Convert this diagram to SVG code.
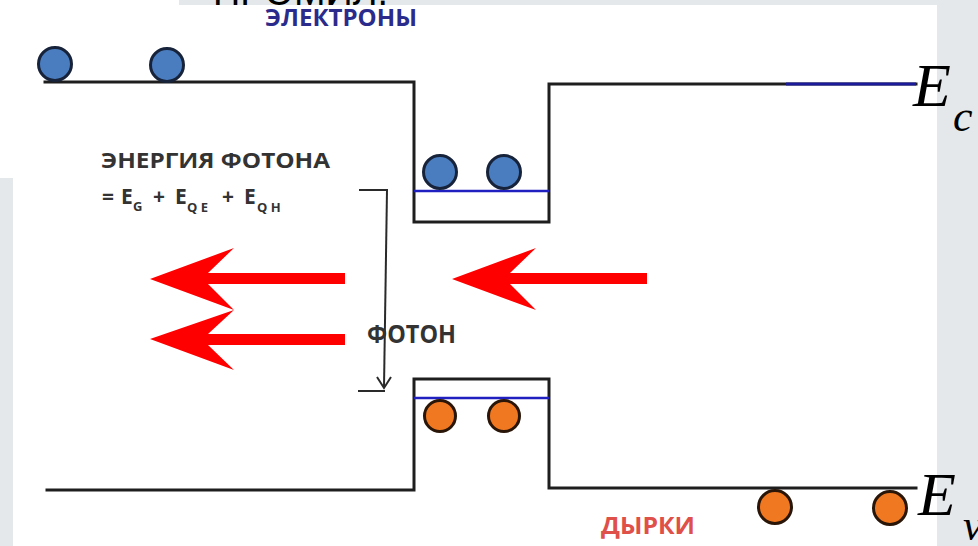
<svg xmlns="http://www.w3.org/2000/svg" width="978" height="546" viewBox="0 0 978 546">
  <style>
    .band { fill: none; stroke: #1e1e1e; stroke-width: 3; stroke-linecap: square; }
    .lvl { fill: none; stroke: #2020c0; stroke-width: 2.5; }
    .el { fill: #4a7dbf; stroke: #17233a; stroke-width: 3; }
    .ho { fill: #f07820; stroke: #2a1608; stroke-width: 3; }
    .red { fill: #ff0000; }
    .lbl { font-family: "Open Sans", "Liberation Sans", sans-serif; font-weight: bold; }
    .sym { font-family: "Liberation Serif", serif; font-style: italic; fill: #000; }
    .thin { fill: none; stroke: #2a2a2a; stroke-width: 2; }
  </style>
  <defs>
    <clipPath id="topclip"><rect x="0" y="0" width="978" height="5.5"/></clipPath>
  </defs>

  <g id="background">
    <rect x="0" y="0" width="978" height="546" fill="#ffffff"/>
    <rect x="179" y="0" width="799" height="5" fill="#e4e8eb"/>
    <rect x="937" y="0" width="41" height="546" fill="#e4e8eb"/>
    <rect x="0" y="178" width="13" height="368" fill="#e4e8eb"/>
    <g clip-path="url(#topclip)">
      <text x="213" y="5" font-family="Liberation Sans, sans-serif" font-size="40" fill="#000" textLength="175" lengthAdjust="spacingAndGlyphs">ПРОМИЛ.</text>
    </g>
  </g>

  <g id="conduction-band">
    <polyline class="band" points="45,82 414,82 414,222 549,222 549,84 916,84"/>
    <line x1="786" y1="84" x2="916" y2="84" stroke="#1a1a9a" stroke-width="3"/>
    <line class="lvl" x1="414" y1="191" x2="549" y2="191"/>
  </g>

  <g id="valence-band">
    <polyline class="band" points="47,490 414,490 414,379 549,379 549,488 916,488"/>
    <line class="lvl" x1="414" y1="398" x2="549" y2="398"/>
  </g>

  <g id="electrons">
    <circle class="el" cx="55" cy="64" r="16.5"/>
    <circle class="el" cx="167" cy="65" r="16.5"/>
    <circle class="el" cx="440" cy="172" r="16.5"/>
    <circle class="el" cx="504" cy="172" r="16.5"/>
  </g>

  <g id="holes">
    <circle class="ho" cx="440" cy="416" r="15.5"/>
    <circle class="ho" cx="504" cy="416" r="15.5"/>
    <circle class="ho" cx="775" cy="507" r="16.5"/>
    <circle class="ho" cx="890" cy="508" r="16.5"/>
  </g>

  <g id="connectors">
    <g id="photon-arrows">
      <polygon class="red" points="150,279 234,248 208,273 345,273 345,284 208,284 234,310"/>
      <polygon class="red" points="150,339 234,310 208,334 345,334 345,345 208,345 234,370"/>
      <polygon class="red" points="452,279 536,248 510,273 647,273 647,284 510,284 536,310"/>
    </g>
    <g id="energy-arrow">
      <line class="thin" x1="359" y1="190" x2="388" y2="190"/>
      <line class="thin" x1="387" y1="190" x2="384" y2="387"/>
      <polyline class="thin" points="377,377 384,388 391,377"/>
      <line class="thin" x1="358" y1="391" x2="385" y2="391"/>
    </g>
  </g>

  <g id="labels">
    <text class="lbl" x="265" y="26" font-size="24" fill="#2b2b8c" textLength="152" lengthAdjust="spacingAndGlyphs">ЭЛЕКТРОНЫ</text>
    <text class="lbl" x="101" y="168" font-size="22" fill="#333" textLength="229" lengthAdjust="spacingAndGlyphs">ЭНЕРГИЯ ФОТОНА</text>
    <text class="lbl" x="102" y="204" font-size="21" fill="#333">=<tspan x="121">E</tspan><tspan x="133" y="211" font-size="13">G</tspan><tspan x="153" y="204">+</tspan><tspan x="175">E</tspan><tspan x="187" y="212" font-size="13">Q E</tspan><tspan x="222" y="204">+</tspan><tspan x="244">E</tspan><tspan x="257" y="212" font-size="13">Q H</tspan></text>
    <text class="lbl" x="367" y="343" font-size="25" fill="#333" textLength="89" lengthAdjust="spacingAndGlyphs">ФОТОН</text>
    <text class="lbl" x="601" y="534" font-size="24" fill="#e0504a" textLength="94" lengthAdjust="spacingAndGlyphs">ДЫРКИ</text>
    <text class="sym" x="913" y="106" font-size="62">E</text>
    <text class="sym" x="953" y="131" font-size="44">c</text>
    <text class="sym" x="918" y="515" font-size="62">E</text>
    <text class="sym" x="963" y="540" font-size="44">v</text>
  </g>
</svg>
